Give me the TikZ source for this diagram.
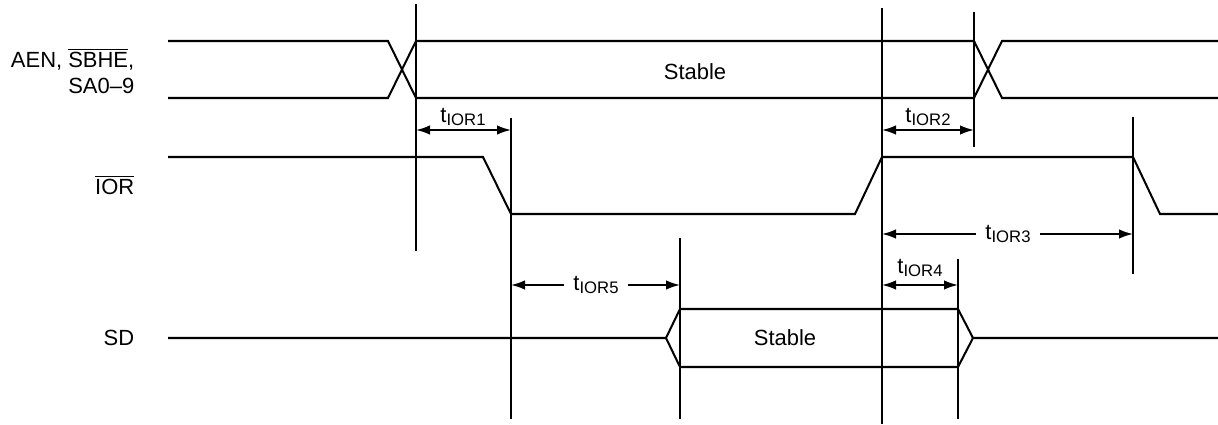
\documentclass[tikz,border=0pt]{standalone}
\usepackage{fontspec}
\setmainfont{Liberation Sans}
\usetikzlibrary{arrows.meta}
\newcommand{\ovl}[1]{$\overline{\hbox{#1}}$}
\newcommand{\tior}[1]{t\raisebox{-0.2ex}{\fontsize{9.5}{11}\selectfont IOR#1}}
\begin{document}
\begin{tikzpicture}[x=0.02cm, y=-0.02cm, line width=1.15pt,
    tip/.tip={Latex[length=2.8mm,width=1.9mm]},
    dim/.style={tip-tip, line width=1pt},
    lbl/.style={font=\fontsize{12.5}{14.5}\selectfont, inner sep=1pt}]
  \useasboundingbox (0,0) rectangle (1218,425);

  % Signal names
  \node[lbl, anchor=east, align=right] (nbus) at (137,71) {AEN, \ovl{SBHE},\\SA0--9};
  \node[lbl, anchor=east] (nior) at (137,185) {\ovl{IOR}};
  \node[lbl, anchor=east] (nsd) at (137,338) {SD};

  % Address bus
  \draw (168,41) -- (388,41) -- (416,98) -- (974,98) -- (1002,41) -- (1218,41);
  \draw (168,98) -- (388,98) -- (416,41) -- (974,41) -- (1002,98) -- (1218,98);
  \node[lbl] (bstable) at (695,72) {Stable};

  % IOR strobe
  \draw (168,157) -- (483,157) -- (511,214) -- (855,214) -- (882,157) -- (1133,157) -- (1160,214) -- (1218,214);

  % Data bus
  \draw (168,338) -- (666,338) -- (680,309) -- (958,309) -- (973,338) -- (1218,338);
  \draw (666,338) -- (680,367) -- (958,367) -- (973,338);
  \node[lbl] (dstable) at (785,338) {Stable};

  % Reference lines
  \draw (416,4) -- (416,251);
  \draw (511,118) -- (511,419);
  \draw (680,238) -- (680,419);
  \draw (882,8) -- (882,424);
  \draw (958,259) -- (958,419);
  \draw (974,12) -- (974,147);
  \draw (1133,117) -- (1133,274);

  % Timing parameters
  \coordinate (a1) at (416,130); \coordinate (b1) at (511,130);
  \draw[dim] (a1) -- (b1);
  \node[lbl] (t1) at (463,117) {\tior1};

  \coordinate (a2) at (882,130); \coordinate (b2) at (974,130);
  \draw[dim] (a2) -- (b2);
  \node[lbl] (t2) at (928,117) {\tior2};

  \coordinate (a3) at (882,234); \coordinate (b3) at (1133,234);
  \node[lbl, inner sep=5pt] (t3) at (1008,234) {\tior3};
  \draw[dim, -tip] (t3) -- (b3);
  \draw[dim, -tip] (t3) -- (a3);

  \coordinate (a4) at (882,285); \coordinate (b4) at (958,285);
  \draw[dim] (a4) -- (b4);
  \node[lbl] (t4) at (920,268) {\tior4};

  \coordinate (a5) at (511,285); \coordinate (b5) at (680,285);
  \node[lbl, inner sep=5pt] (t5) at (596,285) {\tior5};
  \draw[dim, -tip] (t5) -- (a5);
  \draw[dim, -tip] (t5) -- (b5);
\end{tikzpicture}
\end{document}
